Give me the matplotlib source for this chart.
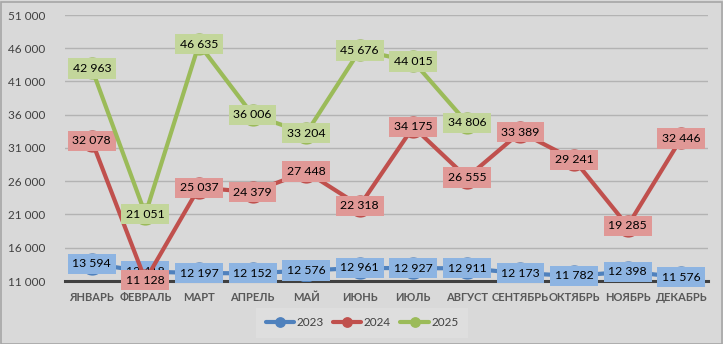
import matplotlib
matplotlib.use("Agg")
import matplotlib.pyplot as plt
from matplotlib.patches import Rectangle

months = ["ЯНВАРЬ", "ФЕВРАЛЬ", "МАРТ", "АПРЕЛЬ", "МАЙ", "ИЮНЬ", "ИЮЛЬ",
          "АВГУСТ", "СЕНТЯБРЬ", "ОКТЯБРЬ", "НОЯБРЬ", "ДЕКАБРЬ"]
y2023 = [13594, 12418, 12197, 12152, 12576, 12961, 12927, 12911, 12173, 11782, 12398, 11576]
y2024 = [32078, 11128, 25037, 24379, 27448, 22318, 34175, 26555, 33389, 29241, 19285, 32446]
y2025 = [42963, 21051, 46635, 36006, 33204, 45676, 44015, 34806]
yticks = [11000, 16000, 21000, 26000, 31000, 36000, 41000, 46000, 51000]

plt.rcParams['font.family'] = ['Lato', 'DejaVu Sans']

W, H = 723, 344
fig = plt.figure(figsize=(W / 100, H / 100), dpi=100)
fig.patch.set_facecolor("#d9d9d9")
fig.patches.append(Rectangle((0.5 / W, 0.5 / H), 1 - 2 / W, 1 - 2 / H, transform=fig.transFigure,
                             fill=False, edgecolor="#a6a6a6", linewidth=1.2))

ax = fig.add_axes([65 / W, (H - 281) / H, (708 - 65) / W, (281 - 15) / H])
ax.set_facecolor("#d9d9d9")
ax.set_xlim(-0.5, 11.5)
ax.set_ylim(11000, 51000)
for s in ["top", "right", "left"]:
    ax.spines[s].set_visible(False)
ax.spines["bottom"].set_color("#404040")
ax.spines["bottom"].set_linewidth(2.2)
ax.spines["bottom"].set_zorder(1.5)

ax.set_yticks(yticks)
ax.set_yticklabels([f"{v:,}".replace(",", " ") for v in yticks], fontsize=8.5, color="#404040")
ax.set_xticks(range(len(months)))
ax.set_xticklabels(months, fontsize=8, color="#595959", fontweight="bold")
ax.tick_params(axis="both", length=0)
ax.tick_params(axis="y", pad=14)
ax.tick_params(axis="x", pad=8)
ax.grid(axis="y", color="#b3b3b3", linewidth=1.0)
ax.set_axisbelow(True)

series = [
    ("2023", y2023, "#4f81bd", "#8db4e2"),
    ("2024", y2024, "#c0504d", "#e09896"),
    ("2025", y2025, "#9bbb59", "#c3d69b"),
]

for i, (name, vals, lc, bc) in enumerate(series):
    xs = list(range(len(vals)))
    z = 3 + i * 2
    ax.plot(xs, vals, color=lc, linewidth=3, marker="o", markersize=15,
            markerfacecolor=lc, markeredgecolor=lc, label=name, zorder=z,
            solid_capstyle="round")
    for x, v in zip(xs, vals):
        ax.text(x, v, f"{v:,}".replace(",", " "), ha="center", va="center",
                fontsize=8.8, color="#000000", zorder=z + 1,
                bbox=dict(boxstyle="square,pad=0.38", facecolor=bc, edgecolor="none"))

leg = fig.legend(loc="center", bbox_to_anchor=(362 / W, 1 - 323 / H), ncol=3,
                 frameon=True, fontsize=8.5, handlelength=2.4, columnspacing=0.8,
                 handletextpad=0.2, borderpad=0.5, markerscale=0.45)
leg.get_frame().set_facecolor("#e0e0e0")
leg.get_frame().set_edgecolor("none")
leg.get_frame().set_boxstyle("square")
for t in leg.get_texts():
    t.set_color("#404040")

fig.savefig("out.png", dpi=100, facecolor=fig.get_facecolor())
